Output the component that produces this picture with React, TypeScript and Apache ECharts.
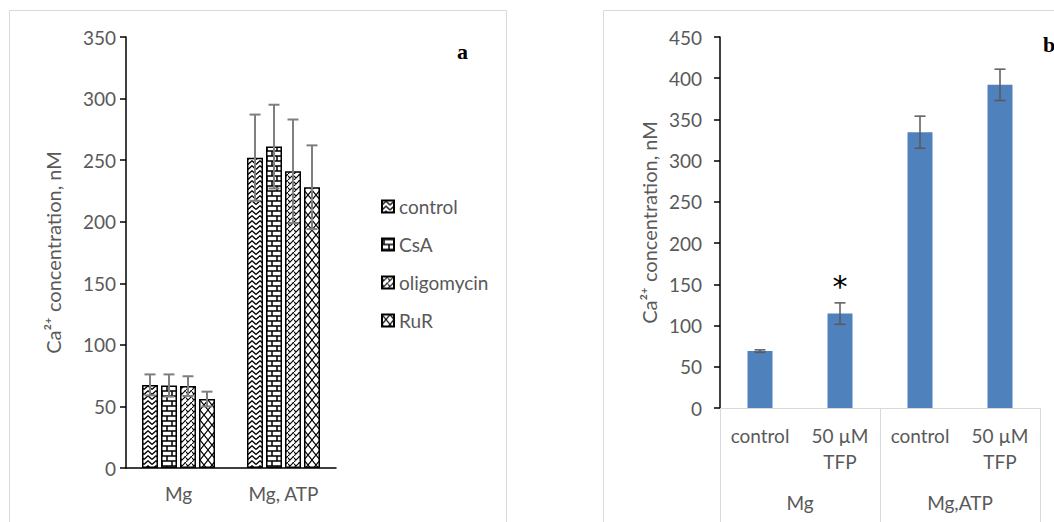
import React, { useEffect, useRef } from 'react';
import * as echarts from 'echarts';

// ---------- data ----------
const groupsA = ['Mg', 'Mg, ATP'];
const seriesNamesA = ['control', 'CsA', 'oligomycin', 'RuR'];
const controlA = [67.5, 252];
const csaA = [67, 261];
const oligomycinA = [66.5, 241];
const rurA = [56, 228];
const controlErrA = [8.5, 35];
const csaErrA = [9, 34];
const oligomycinErrA = [8, 42];
const rurErrA = [6, 34];

const categoriesB = ['control', '50 µM\nTFP', 'control', '50 µM\nTFP'];
const groupsB = ['Mg', 'Mg,ATP'];
const meansB = [69, 114.5, 334.5, 392];
const errB = [1.5, 13, 19.5, 19];
const starIndexB = 1;

const ticksA = { min: 0, max: 350, interval: 50 };
const ticksB = { min: 0, max: 450, interval: 50 };

const FONT = 'Lato, "Liberation Sans", sans-serif';
const GREY_TEXT = '#595959';
const FS = 19;

function makePattern(kind: string) {
  const c = document.createElement('canvas');
  let w = 8, h = 8;
  if (kind === 'control') { w = 8; h = 5; }
  if (kind === 'CsA') { w = 10; h = 10; }
  if (kind === 'oligomycin') { w = 6; h = 6; }
  if (kind === 'RuR') { w = 8; h = 10; }
  c.width = w; c.height = h;
  const ctx = c.getContext('2d')!;
  ctx.fillStyle = '#fff';
  ctx.fillRect(0, 0, w, h);
  ctx.strokeStyle = '#000';
  ctx.lineWidth = 1.3;
  ctx.beginPath();
  if (kind === 'control') {
    ctx.moveTo(0, 4.5); ctx.lineTo(4, 0.8); ctx.lineTo(8, 4.5);
  } else if (kind === 'CsA') {
    ctx.lineWidth = 1.5;
    ctx.moveTo(0, 1); ctx.lineTo(10, 1);
    ctx.moveTo(0, 6); ctx.lineTo(10, 6);
    ctx.moveTo(2, 1); ctx.lineTo(2, 6);
    ctx.moveTo(7, 6); ctx.lineTo(7, 10);
    ctx.moveTo(7, 0); ctx.lineTo(7, 1);
  } else if (kind === 'oligomycin') {
    ctx.lineWidth = 1.1;
    ctx.moveTo(0, 6); ctx.lineTo(6, 0);
    ctx.moveTo(-1, 1); ctx.lineTo(2, 4);
    ctx.moveTo(3, -2); ctx.lineTo(7, 2);
  } else {
    ctx.lineWidth = 1.1;
    ctx.moveTo(0, 0); ctx.lineTo(8, 10);
    ctx.moveTo(8, 0); ctx.lineTo(0, 10);
  }
  ctx.stroke();
  return { image: c, repeat: 'repeat' } as any;
}

function errorSeries(xi: number, yi: number, means: number[], errs: number[], offset: number, color: string, lw: number, cap: number) {
  return {
    type: 'custom',
    xAxisIndex: xi,
    yAxisIndex: yi,
    silent: true,
    z: 10,
    encode: { x: 0, y: 1 },
    data: means.map((m, j) => [j, m, errs[j]]),
    renderItem: (params: any, api: any) => {
      const cat = api.value(0);
      const m = api.value(1);
      const e = api.value(2);
      const hi = api.coord([cat, m + e]);
      const lo = api.coord([cat, m - e]);
      const x = hi[0] + offset;
      const style = { stroke: color, lineWidth: lw };
      return {
        type: 'group',
        children: [
          { type: 'line', shape: { x1: x, y1: hi[1], x2: x, y2: lo[1] }, style },
          { type: 'line', shape: { x1: x - cap, y1: hi[1], x2: x + cap, y2: hi[1] }, style },
          { type: 'line', shape: { x1: x - cap, y1: lo[1], x2: x + cap, y2: lo[1] }, style },
        ],
      };
    },
  };
}

export default function App() {
  const ref = useRef<HTMLDivElement>(null);
  useEffect(() => {
    if (!ref.current) return;
    const chart = echarts.init(ref.current, null, { renderer: 'svg' });
    const valsA = [controlA, csaA, oligomycinA, rurA];
    const errsA = [controlErrA, csaErrA, oligomycinErrA, rurErrA];
    const barW = 16;
    const gapPx = 3;
    const barSeries = seriesNamesA.map((name, i) => ({
      type: 'bar',
      name,
      xAxisIndex: 0,
      yAxisIndex: 0,
      data: valsA[i],
      barWidth: barW,
      barGap: (gapPx / barW) * 100 + '%',
      itemStyle: { color: makePattern(name), borderColor: '#000', borderWidth: 1.5 },
    }));
    const errSeriesA = seriesNamesA.map((_, i) =>
      errorSeries(0, 0, valsA[i], errsA[i], (i - 1.5) * (barW + gapPx), '#7f7f7f', 2, 5.5)
    );
    const option: any = {
      animation: false,
      textStyle: { fontFamily: FONT },
      graphic: [
        { type: 'rect', shape: { x: 9.5, y: 10.5, width: 497, height: 530 }, style: { fill: 'none', stroke: '#d9d9d9', lineWidth: 1 }, z: -1 },
        { type: 'rect', shape: { x: 603.5, y: 10.5, width: 470, height: 530 }, style: { fill: 'none', stroke: '#d9d9d9', lineWidth: 1 }, z: -1 },
        { type: 'text', x: 457, y: 40, style: { text: 'a', font: 'bold 22px "Liberation Serif", serif', fill: '#000' } },
        { type: 'text', x: 1043, y: 33, style: { text: 'b', font: 'bold 22px "Liberation Serif", serif', fill: '#000' } },
      ],
      legend: {
        orient: 'vertical',
        left: 376,
        top: 191,
        icon: 'rect',
        itemWidth: 12,
        itemHeight: 12,
        itemGap: 17,
        data: seriesNamesA,
        textStyle: { fontSize: FS, color: GREY_TEXT, lineHeight: 21, fontFamily: FONT },
      },
      grid: [
        { left: 126, top: 37, width: 210, height: 431 },
        { left: 720, top: 37, width: 320, height: 371 },
      ],
      xAxis: [
        {
          gridIndex: 0, type: 'category', data: groupsA,
          axisLine: { lineStyle: { color: '#000', width: 1.5 } },
          axisTick: { show: false },
          axisLabel: { fontSize: FS, color: GREY_TEXT, margin: 16 },
        },
        {
          gridIndex: 1, type: 'category', data: categoriesB, position: 'bottom',
          axisLine: { lineStyle: { color: '#d9d9d9', width: 1 } },
          axisTick: { show: false },
          axisLabel: { fontSize: FS, color: GREY_TEXT, margin: 14, lineHeight: 26, interval: 0 },
        },
        {
          gridIndex: 1, type: 'category', data: groupsB, position: 'bottom', offset: 0,
          axisLine: { show: false },
          axisTick: { show: true, length: 120, lineStyle: { color: '#d9d9d9', width: 1 } },
          axisLabel: { fontSize: FS, color: GREY_TEXT, margin: 85, interval: 0 },
        },
      ],
      yAxis: [
        {
          gridIndex: 0, type: 'value', ...ticksA,
          axisLine: { show: true, lineStyle: { color: '#000', width: 1.5 } },
          axisTick: { show: true, length: 6, lineStyle: { color: '#000', width: 1.5 } },
          splitLine: { show: false },
          axisLabel: { fontSize: FS, color: GREY_TEXT, margin: 10 },
          name: 'Ca²⁺ concentration, nM', nameLocation: 'middle', nameGap: 63,
          nameTextStyle: { fontSize: 20, color: GREY_TEXT },
        },
        {
          gridIndex: 1, type: 'value', ...ticksB,
          axisLine: { show: true, lineStyle: { color: '#000', width: 1.5 } },
          axisTick: { show: true, length: 6, lineStyle: { color: '#000', width: 1.5 } },
          splitLine: { show: false },
          axisLabel: { fontSize: FS, color: GREY_TEXT, margin: 18 },
          name: 'Ca²⁺ concentration, nM', nameLocation: 'middle', nameGap: 61,
          nameTextStyle: { fontSize: 20, color: GREY_TEXT },
        },
      ],
      series: [
        ...barSeries,
        ...errSeriesA,
        {
          type: 'bar', name: 'TFP', xAxisIndex: 1, yAxisIndex: 1, barWidth: 25,
          itemStyle: { color: '#4f81bd' },
          data: meansB.map((v, j) =>
            j === starIndexB
              ? { value: v, label: { show: true, position: 'top', distance: 12, formatter: '*', fontSize: 30, color: '#000', fontFamily: '"DejaVu Sans", sans-serif' } }
              : v
          ),
        },
        errorSeries(1, 1, meansB, errB, 0, '#595959', 1.5, 5.5),
      ],
    };
    chart.setOption(option);
    return () => chart.dispose();
  }, []);
  return <div ref={ref} style={{ position: 'fixed', left: 0, top: 0, width: 1054, height: 522, background: '#fff' }} />;
}
